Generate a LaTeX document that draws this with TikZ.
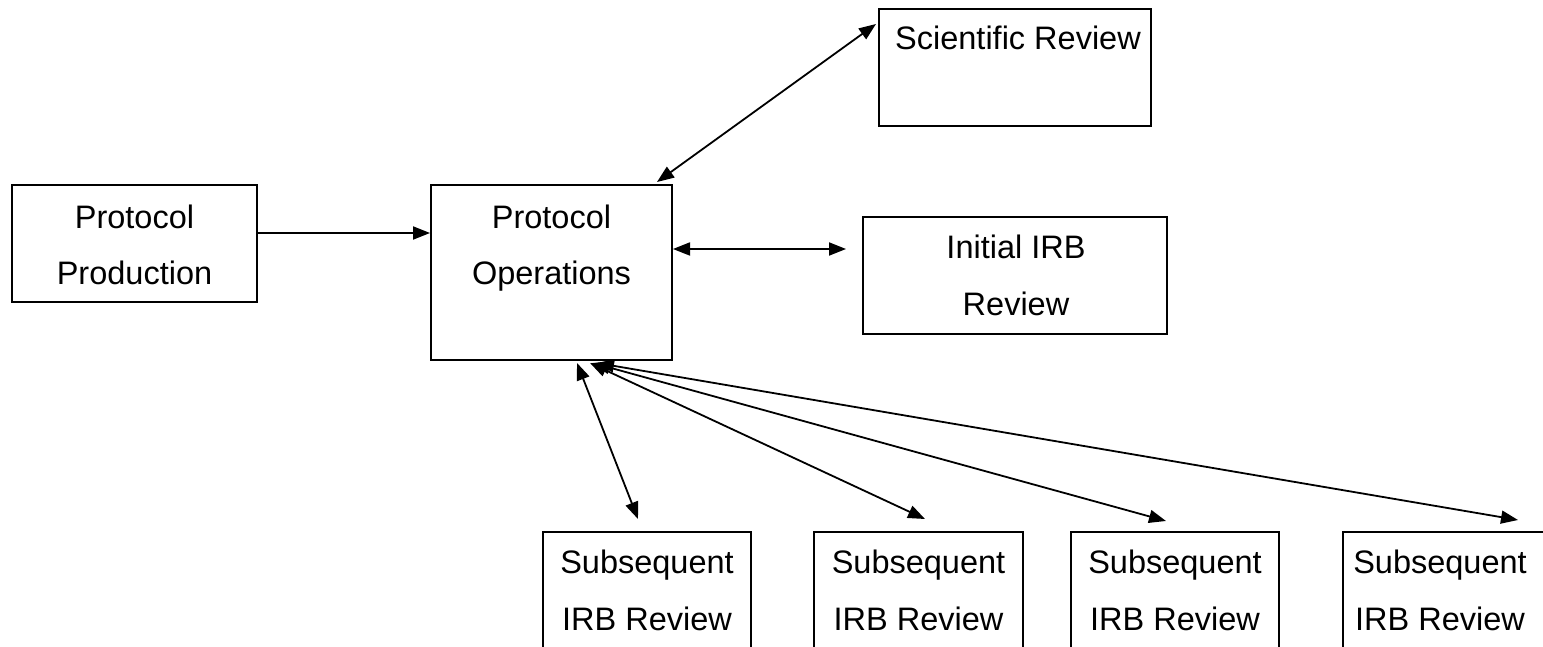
\documentclass[tikz,border=0pt]{standalone}
\usepackage{fontspec}
\setmainfont{Liberation Sans}
\usetikzlibrary{arrows.meta}
\begin{document}
\begin{tikzpicture}[x=1pt,y=-1pt,
  box/.style={draw, line width=2pt, inner sep=0pt, minimum height=117pt},
  txt/.style={font=\fontsize{32.5}{57}\selectfont, align=center, anchor=base, inner sep=0pt},
  arr/.style={line width=1.8pt, -{Triangle[length=17pt,width=13pt]}},
  barr/.style={line width=1.8pt, {Triangle[length=17pt,width=13pt]}-{Triangle[length=17pt,width=13pt]}}]
\clip (0,0) rectangle (1543,647);
\fill[white] (0,0) rectangle (1543,647);
% boxes
\node[box, minimum width=245pt] (pp) at (134.5,243.5) {};
\node[box, minimum width=241pt, minimum height=175pt] (po) at (551.5,272.5) {};
\node[box, minimum width=272pt] (sr) at (1015,67.5) {};
\node[box, minimum width=304pt] (ir) at (1015,275.5) {};
\node[box, minimum width=208pt] (s1) at (647,590.5) {};
\node[box, minimum width=209pt] (s2) at (918.5,590.5) {};
\node[box, minimum width=208pt] (s3) at (1175,590.5) {};
\node[box, minimum width=208pt] (s4) at (1447,590.5) {};
% texts (base anchor = baseline of the last line)
\node[txt] (ppt) at (134.5,285) {Protocol\\Production};
\node[txt] (pot) at (551.5,285) {Protocol\\Operations};
\node[txt] (srt) at (1018,50) {Scientific Review};
\node[txt] (irt) at (1016,316) {Initial IRB\\Review};
\node[txt] (s1t) at (647,630) {Subsequent\\IRB Review};
\node[txt] (s2t) at (918.5,630) {Subsequent\\IRB Review};
\node[txt] (s3t) at (1175,630) {Subsequent\\IRB Review};
\node[txt] (s4t) at (1440,630) {Subsequent\\IRB Review};
% connectors
\draw[arr] ([yshift=10.5pt]pp.east) -- ([yshift=39.5pt]po.west);
\draw[barr] ([yshift=23.5pt]po.east) -- ([xshift=-16pt,yshift=26.5pt]ir.west);
\draw[barr] ([xshift=105.5pt,yshift=2pt]po.north) -- ([xshift=-2pt,yshift=-16pt]sr.north west);
\draw[barr] ([xshift=25.5pt,yshift=-2pt]po.south) -- ([xshift=-9pt,yshift=12pt]s1.north);
\draw[barr] ([xshift=38.5pt,yshift=-2pt]po.south) -- ([xshift=6.5pt,yshift=12pt]s2.north);
\draw[barr] ([xshift=41.5pt,yshift=-2pt]po.south) -- ([xshift=-9pt,yshift=10pt]s3.north);
\draw[barr] ([xshift=45.5pt,yshift=-2pt]po.south) -- ([xshift=71pt,yshift=11pt]s4.north);
\end{tikzpicture}
\end{document}
